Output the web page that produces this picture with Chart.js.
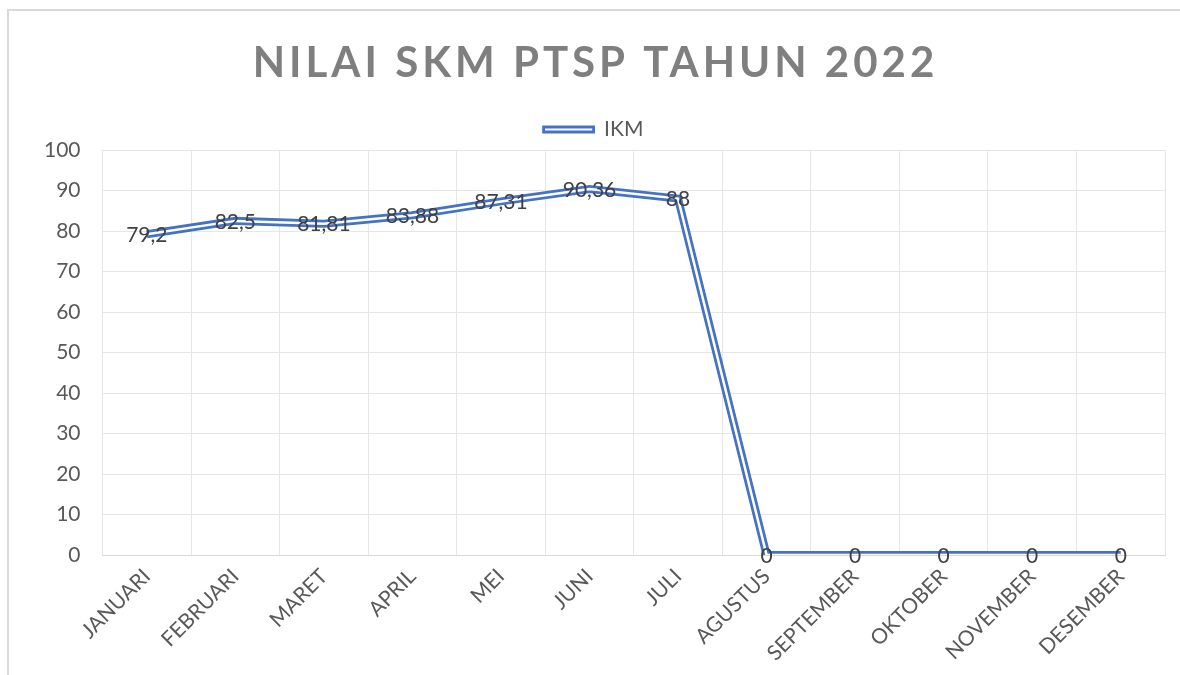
<!DOCTYPE html>
<html>
<head>
<meta charset="utf-8">
<script src="https://cdn.jsdelivr.net/npm/chart.js@4/dist/chart.umd.min.js"></script>
<style>
  html, body { margin: 0; padding: 0; background: #fff; }
  #frame {
    position: absolute; left: 7px; top: 9px; right: 0; bottom: 0;
    border-top: 2px solid #d9d9d9; border-left: 2px solid #d9d9d9;
  }
  #chart { display: block; }
</style>
</head>
<body>
<div id="frame"><canvas id="chart"></canvas></div>
<script>
// chart data
const titleText = 'NILAI SKM PTSP TAHUN 2022';
const seriesName = 'IKM';
const months = ['JANUARI', 'FEBRUARI', 'MARET', 'APRIL', 'MEI', 'JUNI', 'JULI',
  'AGUSTUS', 'SEPTEMBER', 'OKTOBER', 'NOVEMBER', 'DESEMBER'];
const ikmValues = [79.2, 82.5, 81.81, 83.88, 87.31, 90.36, 88, 0, 0, 0, 0, 0];
const yTicks = [0, 10, 20, 30, 40, 50, 60, 70, 80, 90, 100];

const blue = '#4472C4';
const textGray = '#595959';
const gridGray = '#e6e6e6';
const fontName = 'Lato';

// title with letter spacing, canvas title plugin can't do that
const spacedTitle = {
  id: 'spacedTitle',
  afterDraw(chart) {
    const ctx = chart.ctx;
    ctx.save();
    ctx.font = 'bold 42px ' + fontName;
    ctx.letterSpacing = '4px';
    ctx.fillStyle = '#7f7f7f';
    ctx.textAlign = 'center';
    ctx.textBaseline = 'alphabetic';
    ctx.fillText(titleText, chart.width / 2 + 1, 66);
    ctx.restore();
  }
};

// value labels centered on each point (Excel style, comma decimals)
const valueLabels = {
  id: 'valueLabels',
  afterDatasetsDraw(chart) {
    const ctx = chart.ctx;
    const meta = chart.getDatasetMeta(0);
    ctx.save();
    ctx.font = '21px ' + fontName;
    ctx.fillStyle = '#404040';
    ctx.textAlign = 'center';
    ctx.textBaseline = 'middle';
    meta.data.forEach((pt, i) => {
      const txt = String(ikmValues[i]).replace('.', ',');
      ctx.fillText(txt, pt.x, pt.y + 1);
    });
    ctx.restore();
  }
};

new Chart(document.getElementById('chart'), {
  type: 'line',
  data: {
    labels: months,
    datasets: [
      {
        // outer blue stroke of the double line
        label: seriesName,
        data: ikmValues,
        order: 2,
        borderColor: blue,
        backgroundColor: '#ffffff',
        borderWidth: 8,
        borderJoinStyle: 'miter',
        pointRadius: 0,
        tension: 0
      },
      {
        // white core drawn on top
        label: seriesName + '_inner',
        data: ikmValues,
        order: 1,
        borderColor: '#ffffff',
        borderWidth: 2.5,
        borderJoinStyle: 'miter',
        pointRadius: 0,
        tension: 0
      }
    ]
  },
  options: {
    responsive: true,
    maintainAspectRatio: false,
    animation: false,
    layout: { padding: { top: 99, left: 13, right: 15, bottom: 0 } },
    plugins: {
      title: { display: false },
      tooltip: { enabled: false },
      legend: {
        position: 'top',
        labels: {
          color: textGray,
          font: { family: fontName, size: 21 },
          boxWidth: 50,
          boxHeight: 5,
          padding: 9,
          filter: (item) => item.datasetIndex === 0,
          generateLabels(chart) {
            return Chart.defaults.plugins.legend.labels.generateLabels(chart).map(l => {
              l.fillStyle = '#ffffff';
              l.strokeStyle = blue;
              l.lineWidth = 2.8;
              return l;
            });
          }
        }
      }
    },
    scales: {
      x: {
        offset: true,
        grid: { offset: true, color: gridGray, drawTicks: false },
        border: { color: '#d9d9d9' },
        ticks: {
          color: textGray,
          font: { family: fontName, size: 21 },
          autoSkip: false,
          minRotation: 45,
          maxRotation: 45,
          padding: 9
        }
      },
      y: {
        min: 0,
        max: 100,
        afterBuildTicks(axis) { axis.ticks = yTicks.map(v => ({ value: v })); },
        grid: { color: gridGray, drawTicks: false },
        border: { display: false },
        ticks: {
          color: textGray,
          font: { family: fontName, size: 21 },
          padding: 22
        }
      }
    }
  },
  plugins: [spacedTitle, valueLabels]
});
</script>
</body>
</html>
